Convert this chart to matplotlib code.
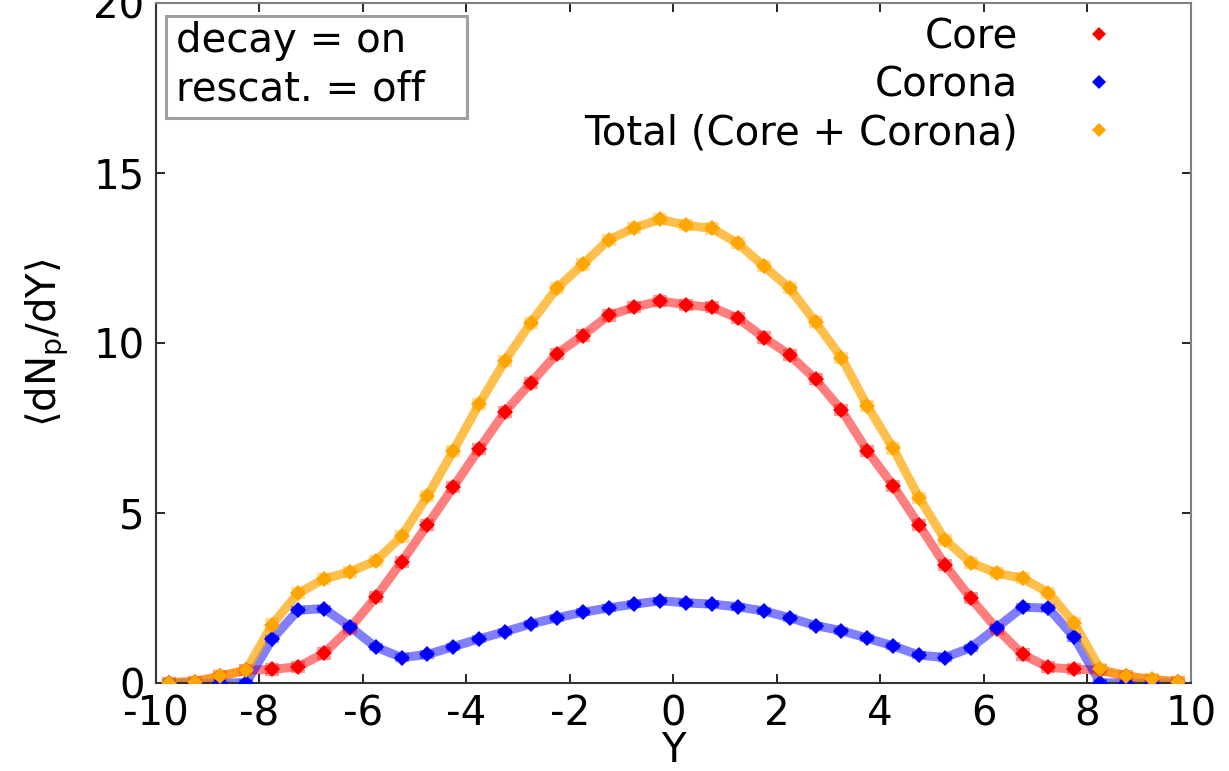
import numpy as np
import matplotlib
matplotlib.use("Agg")
import matplotlib.pyplot as plt
from matplotlib.lines import Line2D
from matplotlib.patches import Rectangle

# rapidity bin centres
y_bins = [-9.75, -9.25, -8.75, -8.25, -7.75, -7.25, -6.75, -6.25, -5.75, -5.25,
          -4.75, -4.25, -3.75, -3.25, -2.75, -2.25, -1.75, -1.25, -0.75, -0.25,
          0.25, 0.75, 1.25, 1.75, 2.25, 2.75, 3.25, 3.75, 4.25, 4.75,
          5.25, 5.75, 6.25, 6.75, 7.25, 7.75, 8.25, 8.75, 9.25, 9.75]

core = [0.01, 0.04, 0.20, 0.38, 0.40, 0.48, 0.87, 1.61, 2.52, 3.56,
        4.65, 5.76, 6.89, 7.98, 8.83, 9.68, 10.22, 10.81, 11.05, 11.24,
        11.12, 11.05, 10.73, 10.16, 9.65, 8.93, 8.03, 6.83, 5.80, 4.65,
        3.48, 2.49, 1.60, 0.84, 0.46, 0.41, 0.38, 0.20, 0.10, 0.03]

corona = [0.0, 0.0, 0.0, 0.01, 1.29, 2.14, 2.19, 1.66, 1.06, 0.75,
          0.84, 1.07, 1.30, 1.51, 1.74, 1.92, 2.08, 2.21, 2.32, 2.42,
          2.36, 2.32, 2.24, 2.12, 1.92, 1.69, 1.54, 1.32, 1.09, 0.82,
          0.75, 1.04, 1.63, 2.23, 2.20, 1.34, 0.01, 0.0, 0.0, 0.0]

total = [0.01, 0.04, 0.20, 0.38, 1.72, 2.64, 3.06, 3.27, 3.59, 4.31,
         5.50, 6.83, 8.21, 9.48, 10.60, 11.61, 12.31, 13.03, 13.39, 13.64,
         13.46, 13.37, 12.93, 12.26, 11.61, 10.61, 9.57, 8.15, 6.90, 5.45,
         4.21, 3.54, 3.23, 3.08, 2.66, 1.76, 0.40, 0.21, 0.11, 0.03]

# approximate statistical uncertainties (small)
core_err = 0.12
corona_err = 0.06
total_err = 0.12

labels = ["Core", "Corona", "Total (Core + Corona)"]
colors = ["red", "blue", "orange"]
line_alpha = [0.5, 0.5, 0.7]

xticks = [-10, -8, -6, -4, -2, 0, 2, 4, 6, 8, 10]
yticks = [0, 5, 10, 15, 20]

FS = 29
plt.rcParams['font.family'] = ['DejaVu Sans']
plt.rcParams['font.size'] = FS
plt.rcParams['mathtext.fontset'] = 'dejavusans'
plt.rcParams['axes.unicode_minus'] = False

fig = plt.figure(figsize=(12.29, 7.71), dpi=100)
ax = fig.add_axes([0.1267, 0.1141, 0.9689 - 0.1267, 0.9961 - 0.1141])

series = [(core, core_err), (corona, corona_err), (total, total_err)]
for (vals, err), col, la in zip(series, colors, line_alpha):
    ax.plot(y_bins, vals, '-', color=col, lw=6.5, alpha=la, zorder=2,
            solid_joinstyle='round')
    ax.errorbar(y_bins, vals, yerr=err, fmt='none', ecolor=col, elinewidth=3,
                capsize=5, capthick=3, alpha=0.4, zorder=3)
    ax.plot(y_bins, vals, 'D', color=col, ms=8.5, mew=0, zorder=4)

ax.set_xlim(-10, 10)
ax.set_ylim(0, 20)
ax.set_xticks(xticks)
ax.set_yticks(yticks)
ax.tick_params(direction='in', length=6.5, width=1.2, top=True, right=True,
               labelsize=FS, pad=8, color='black')
for side in ['left', 'bottom']:
    ax.spines[side].set_color('#333333')
for side in ['top', 'right']:
    ax.spines[side].set_color('#808080')
for sp in ax.spines.values():
    sp.set_linewidth(1.5)

ax.set_xlabel("Y", fontsize=FS, labelpad=-2)
ax.set_ylabel(r"⟨dN$_\mathrm{p}$/dY⟩", fontsize=FS, labelpad=16)

handles = [Line2D([], [], marker='D', ls='none', color=c, ms=7.5, mew=0) for c in colors]
ax.legend(handles, labels, loc='upper right', frameon=False, markerfirst=False,
          fontsize=FS, handletextpad=1.0, handlelength=2.0, labelspacing=0.2,
          borderaxespad=0.0, borderpad=0.0, bbox_to_anchor=(0.950, 0.979))

# annotation box
ax.add_patch(Rectangle((0.0097, 0.8313), 0.3008 - 0.0097, 0.9813 - 0.8313,
                       transform=ax.transAxes, fc='white', ec='#a0a0a0', lw=2.2,
                       zorder=5))
ax.text(0.0196, 0.9284, "decay = on", transform=ax.transAxes, fontsize=FS,
        va='baseline', ha='left', zorder=6)
ax.text(0.0196, 0.8566, "rescat. = off", transform=ax.transAxes, fontsize=FS,
        va='baseline', ha='left', zorder=6)

fig.savefig("out.png", dpi=100)
